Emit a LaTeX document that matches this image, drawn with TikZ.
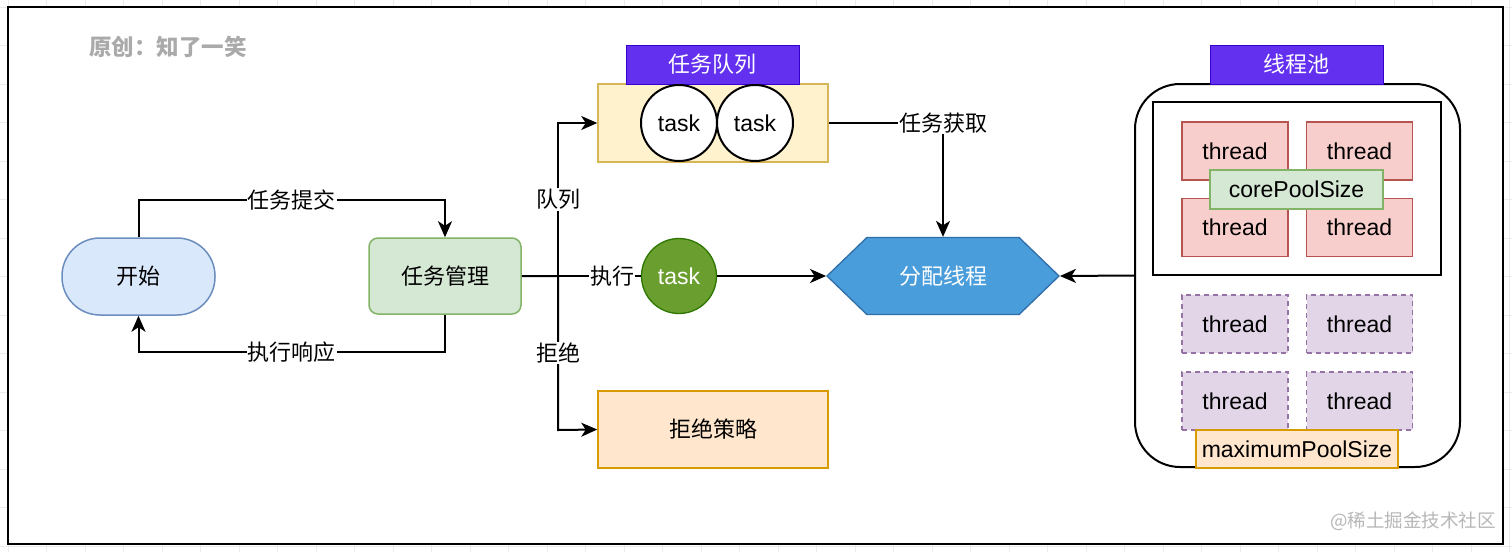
\documentclass[tikz,border=0pt]{standalone}
\usepackage{fontspec}
\setmainfont{Liberation Sans}
\newfontfamily\cjk{Noto Sans CJK SC}
\usetikzlibrary{arrows.meta,shapes.symbols}
\definecolor{blueF}{HTML}{DAE8FC}\definecolor{blueD}{HTML}{6C8EBF}
\definecolor{greenF}{HTML}{D5E8D4}\definecolor{greenD}{HTML}{82B366}
\definecolor{yelF}{HTML}{FFF2CC}\definecolor{yelD}{HTML}{D6B656}
\definecolor{orgF}{HTML}{FFE6CC}\definecolor{orgD}{HTML}{D79B00}
\definecolor{redF}{HTML}{F8CECC}\definecolor{redD}{HTML}{B85450}
\definecolor{purF}{HTML}{E1D5E7}\definecolor{purD}{HTML}{9673A6}
\definecolor{violetF}{RGB}{100,48,240}\definecolor{violetD}{HTML}{3700CC}
\definecolor{hexF}{RGB}{74,157,219}\definecolor{hexD}{RGB}{47,110,168}
\definecolor{gtaskF}{RGB}{106,158,47}\definecolor{gtaskD}{HTML}{2D7600}
\definecolor{gridC}{HTML}{EBEBEB}
\definecolor{wmC}{HTML}{AAAAAA}
\tikzset{
  txt/.style={font=\fontsize{23}{27}\selectfont},
  ctxt/.style={font=\cjk\fontsize{22}{26}\selectfont},
  box/.style={draw, line width=1.5pt, inner sep=0pt, minimum width=#1},
  arr/.style={line width=2pt, -{Stealth[length=16pt,width=14pt,inset=4.5pt]}},
  con/.style={line width=2pt},
  lbl/.style={ctxt, fill=white, inner sep=1pt},
  header/.style={box=173pt, minimum height=39pt, fill=violetF, draw=violetD, line width=1pt, ctxt, text=white},
  redthread/.style={box=106pt, minimum height=58pt, fill=redF, draw=redD, txt},
  purthread/.style={box=106pt, minimum height=58pt, fill=purF, draw=purD, dashed, dash pattern=on 5pt off 4pt, txt},
  taskc/.style={circle, draw, line width=2pt, fill=white, minimum size=76pt, inner sep=0pt, txt},
}
\begin{document}
\begin{tikzpicture}[x=1pt,y=-1pt]
\useasboundingbox (0,0) rectangle (1512,552);
% background grid
\foreach \gx in {8,46.5,...,1512} \draw[gridC, line width=0.8pt] (\gx,0) -- (\gx,552);
\foreach \gy in {7,45.5,...,552} \draw[gridC, line width=0.8pt] (0,\gy) -- (1512,\gy);
% frame
\draw[line width=1.5pt, fill=white] (8,7) rectangle (1503,544);
% watermarks
\node[font=\cjk\bfseries\fontsize{22.5}{26}\selectfont, text=wmC] (wm1) at (168,47) {原创：知了一笑};
\node[font=\cjk\fontsize{18.5}{22}\selectfont, text=wmC!85] (wm2) at (1413,521) {@稀土掘金技术社区};
% left nodes
\node[box=153pt, minimum height=77pt, rounded corners=38pt, fill=blueF, draw=blueD, ctxt] (start) at (138.5,276.5) {开始};
\node[box=152pt, minimum height=76pt, rounded corners=9pt, fill=greenF, draw=greenD, ctxt] (mgr) at (445,276) {任务管理};
% queue
\node[box=230pt, minimum height=78pt, fill=yelF, draw=yelD] (queue) at (713,123) {};
\node[header] (qhead) at (712.5,64.5) {任务队列};
\node[taskc] (t1) at (679,123) {task};
\node[taskc] (t2) at (755,123) {task};
% green task
\node[circle, draw=gtaskD, line width=1.3pt, fill=gtaskF, minimum size=75pt, inner sep=0pt, txt, text=white] (gtask) at (679,276) {task};
% hexagon
\node[signal, signal to=west and east, signal pointer angle=88, draw=hexD, fill=hexF, line width=1.3pt, minimum width=232pt, minimum height=77pt, inner sep=0pt, ctxt, text=white] (hex) at (943,276) {分配线程};
% reject
\node[box=230pt, minimum height=77pt, fill=orgF, draw=orgD, ctxt] (reject) at (713,429.5) {拒绝策略};
% thread pool
\node[draw, line width=2pt, fill=white, rounded corners=45pt, minimum width=325pt, minimum height=383pt, inner sep=0pt] (pool) at (1297.5,275.5) {};
\node[header] (phead) at (1296.5,64.5) {线程池};
\node[draw, line width=2.5pt, minimum width=288pt, minimum height=173pt, inner sep=0pt] (core) at (1297,188.5) {};
\node[redthread] (r1) at (1235,151) {thread};
\node[redthread] (r2) at (1359.5,151) {thread};
\node[redthread] (r3) at (1235,227.5) {thread};
\node[redthread] (r4) at (1359.5,227.5) {thread};
\node[box=173pt, minimum height=39pt, fill=greenF, draw=greenD, txt] (corelbl) at (1296.5,189.5) {corePoolSize};
\node[purthread] (p1) at (1235,324) {thread};
\node[purthread] (p2) at (1359.5,324) {thread};
\node[purthread] (p3) at (1235,401) {thread};
\node[purthread] (p4) at (1359.5,401) {thread};
\node[box=202pt, minimum height=38pt, fill=orgF, draw=orgD, txt] (maxlbl) at (1297,449) {maximumPoolSize};
% connectors
\draw[arr] (start.north) -- (138.5,200) -- node[lbl]{任务提交} (445,200) -- (mgr.north);
\draw[arr] (mgr.south) -- (445,352) -- node[lbl]{执行响应} (138.5,352) -- (start.south);
\draw[arr] (mgr.east) -- (558,276) -- node[lbl]{队列} (558,123) -- (queue.west);
\draw[arr] (mgr.east) -- (558,276) -- node[lbl]{拒绝} (558,430) -- (reject.west);
\draw[con] (mgr.east) -- node[lbl, pos=0.76]{执行} (gtask.west);
\draw[arr] (gtask.east) -- (hex.west);
\draw[arr] (queue.east) -- (943,123) node[lbl]{任务获取} -- (hex.north);
\draw[arr] (pool.west) -- (hex.east);
\end{tikzpicture}
\end{document}
